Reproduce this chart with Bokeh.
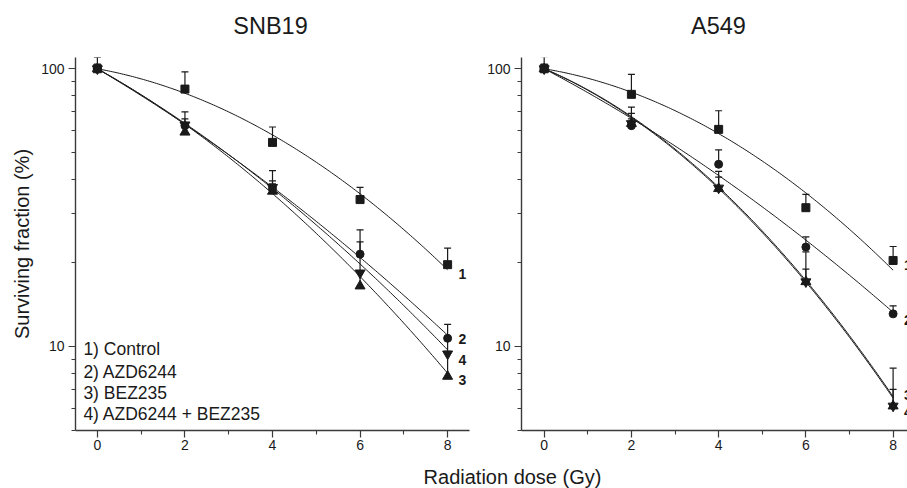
import numpy as np
from bokeh.plotting import figure
from bokeh.models import (Range1d, FixedTicker, Whisker, TeeHead, ColumnDataSource,
                          PrintfTickFormatter)
from bokeh.layouts import row, column
from bokeh.embed import file_html
from bokeh.resources import INLINE
from bokeh.core.properties import value

# ---------------- data ----------------
doses = [0, 2, 4, 6, 8]
panel_titles = ["SNB19", "A549"]
series_names = ["1) Control", "2) AZD6244", "3) BEZ235", "4) AZD6244 + BEZ235"]
curve_ids = ["1", "2", "3", "4"]
markers = ["square", "circle", "triangle", "inverted_triangle"]

# SNB19 surviving fraction (%) and upper error-bar ends
snb19_control = [100, 84.5, 54.3, 33.8, 19.7]
snb19_control_upper = [110, 97.5, 61.7, 37.4, 22.6]
snb19_azd = [100, 62.4, 37.0, 21.5, 10.7]
snb19_azd_upper = [104, 70.0, 43.0, 26.3, 12.0]
snb19_bez = [100, 59.1, 36.2, 16.5, 7.8]
snb19_bez_upper = [102, 63.0, 38.5, 18.5, 9.6]
snb19_combo = [100, 62.8, 37.4, 18.4, 9.4]
snb19_combo_upper = [103, 66.0, 39.5, 23.8, 10.8]

# A549
a549_control = [100, 80.9, 60.5, 31.6, 20.4]
a549_control_upper = [110.6, 95.4, 70.6, 35.3, 22.9]
a549_azd = [100, 62.4, 45.3, 22.8, 13.1]
a549_azd_upper = [104, 72.8, 51.0, 24.8, 14.0]
a549_bez = [100, 63.5, 37.0, 17.1, 6.1]
a549_bez_upper = [103, 69.1, 42.7, 21.9, 8.35]
a549_combo = [100, 63.5, 37.2, 17.1, 6.1]
a549_combo_upper = [102, 66.0, 40.7, 19.0, 7.0]

# fitted linear-quadratic parameters (alpha, beta)
snb19_alpha = [0.066, 0.2146, 0.202, 0.205]
snb19_beta = [0.0178, 0.0077, 0.0142, 0.0108]
a549_alpha = [0.060, 0.190, 0.151, 0.155]
a549_beta = [0.0186, 0.0078, 0.0236, 0.0233]

y_ticks = [10, 100]
y_minor = [5, 6, 7, 8, 9, 20, 30, 40, 50, 60, 70, 80, 90]
x_ticks = [0, 2, 4, 6, 8]
x_minor = [1, 3, 5, 7]

FONT = "Liberation Sans"
INK = "#1a1a1a"


def make_panel(values, uppers, alphas, betas, width, border_left, border_right,
               x_start, x_end, label_y, ylabel=None, legend=False):
    p = figure(width=width, height=418, y_axis_type="log",
               x_range=Range1d(x_start, x_end), y_range=Range1d(4.98, 109.8),
               output_backend="svg", toolbar_location=None,
               min_border_left=border_left, min_border_right=border_right,
               min_border_top=17, min_border_bottom=28)
    p.outline_line_color = None
    p.xgrid.visible = False
    p.ygrid.visible = False
    p.background_fill_color = "white"

    for ax in (p.xaxis[0], p.yaxis[0]):
        ax.axis_line_color = "#3a3a3a"
        ax.axis_line_width = 1.4
        ax.major_tick_line_color = "#3a3a3a"
        ax.minor_tick_line_color = "#3a3a3a"
        ax.major_tick_line_width = 1.2
        ax.minor_tick_line_width = 1.1
        ax.major_tick_in = 0
        ax.major_tick_out = 7
        ax.minor_tick_in = 0
        ax.minor_tick_out = 4
        ax.major_label_text_font = FONT
        ax.major_label_text_font_size = "14px"
        ax.major_label_text_color = INK
    p.xaxis.ticker = FixedTicker(ticks=x_ticks, minor_ticks=x_minor)
    p.yaxis.ticker = FixedTicker(ticks=y_ticks, minor_ticks=y_minor)
    p.yaxis.formatter = PrintfTickFormatter(format="%d")
    p.yaxis.major_label_standoff = 4
    p.xaxis.major_label_standoff = 2
    if ylabel:
        p.yaxis.axis_label = ylabel
        p.yaxis.axis_label_text_font = FONT
        p.yaxis.axis_label_text_font_size = "20px"
        p.yaxis.axis_label_text_font_style = "normal"
        p.yaxis.axis_label_text_color = INK
        p.yaxis.axis_label_standoff = 5

    dd = np.linspace(0, 8, 161)
    for a, b in zip(alphas, betas):
        p.line(dd, 100 * np.exp(-a * dd - b * dd ** 2), line_color=INK, line_width=1)

    for vals, ups, mk in zip(values, uppers, markers):
        src = ColumnDataSource(dict(x=doses, y=vals, up=ups))
        p.add_layout(Whisker(base="x", lower="y", upper="up", source=src,
                             dimension="height", line_color=INK, line_width=1.2,
                             lower_head=None,
                             upper_head=TeeHead(size=7, line_color=INK, line_width=1.2)))
        size = 8 if mk in ("square", "circle") else 10
        p.scatter("x", "y", source=src, marker=mk, size=size,
                  fill_color=INK, line_color=INK)

    p.text(x=[8.25] * 4, y=label_y, text=curve_ids, text_font=value(FONT),
           text_font_size="14px", text_font_style="bold", text_color=INK,
           text_align="left", text_baseline="middle")

    if legend:
        p.text(x=[-0.32] * 4, y=[9.75, 8.06, 6.78, 5.69], text=series_names,
               text_font=value(FONT), text_font_size="17.5px", text_color=INK,
               text_align="left", text_baseline="middle")
    return p


# title strip holding the two panel titles
pt = figure(width=907, height=40, x_range=Range1d(0, 907), y_range=Range1d(0, 40),
            x_axis_type=None, y_axis_type=None, output_backend="svg",
            toolbar_location=None, min_border=0)
pt.outline_line_color = None
pt.xgrid.visible = False
pt.ygrid.visible = False
pt.text(x=[270, 718], y=[15, 15], text=panel_titles, text_font=value(FONT),
        text_font_size="23.5px", text_color=INK, text_align="center",
        text_baseline="middle")

p1 = make_panel([snb19_control, snb19_azd, snb19_bez, snb19_combo],
                [snb19_control_upper, snb19_azd_upper, snb19_bez_upper, snb19_combo_upper],
                snb19_alpha, snb19_beta, 481, 75, 12, -0.5, 8.5,
                [18.3, 10.6, 7.55, 8.97], ylabel="Surviving fraction (%)", legend=True)
p2 = make_panel([a549_control, a549_azd, a549_bez, a549_combo],
                [a549_control_upper, a549_azd_upper, a549_bez_upper, a549_combo_upper],
                a549_alpha, a549_beta, 426, 40, 0, -0.52, 8.33,
                [19.6, 12.4, 6.7, 5.8])

p3 = figure(width=907, height=30, x_range=Range1d(0, 907), y_range=Range1d(0, 30),
            x_axis_type=None, y_axis_type=None, output_backend="svg",
            toolbar_location=None, min_border=0)
p3.outline_line_color = None
p3.xgrid.visible = False
p3.ygrid.visible = False
p3.text(x=[512], y=[12], text=["Radiation dose (Gy)"], text_font=value(FONT),
        text_font_size="20px", text_color=INK, text_align="center",
        text_baseline="middle")

layout = column(pt, row(p1, p2), p3)
open("out.html", "w").write(file_html(layout, INLINE))
